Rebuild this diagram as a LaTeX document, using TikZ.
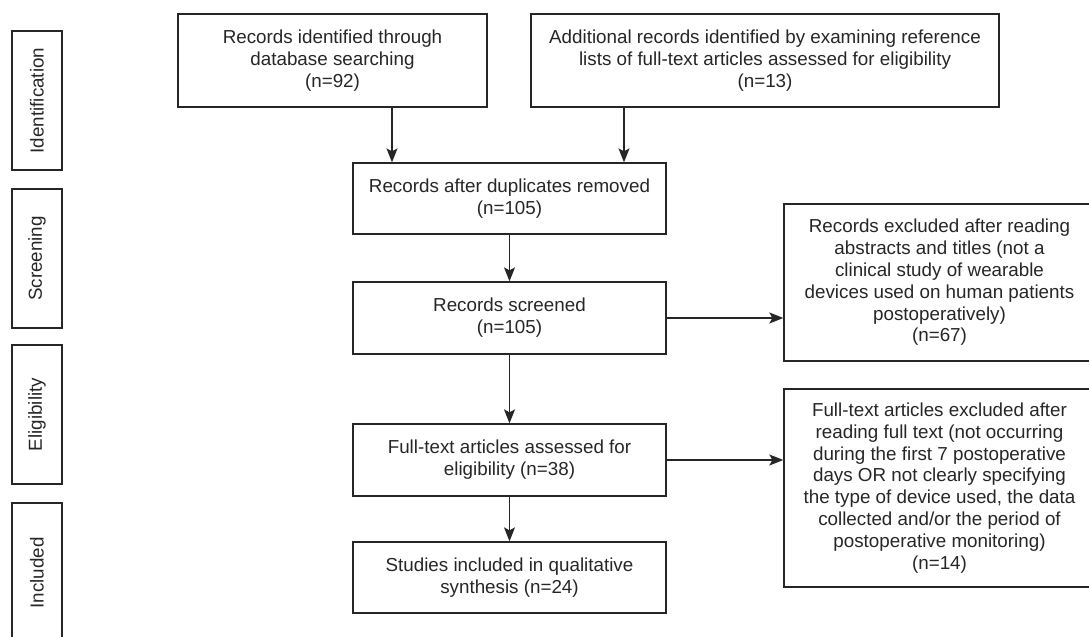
\documentclass[tikz,border=0pt]{standalone}
\usepackage{fontspec}
\setmainfont{Liberation Sans}
\usetikzlibrary{arrows.meta, positioning}
\newcommand{\pxu}{0.5pt}

\begin{document}
\begin{tikzpicture}[
    x=0.5pt, y=-0.5pt,
    font=\fontsize{9.4}{10.9}\selectfont,
    box/.style={draw=black!85, line width=0.65pt, align=center, inner sep=0pt, text=black!85},
    phase/.style={draw=black!85, line width=0.6pt, rotate=90, minimum width=139*\pxu, minimum height=50*\pxu, inner sep=0pt, text=black!85},
    arrow/.style={-{Stealth[length=7pt, width=5.5pt, inset=1.5pt]}, line width=0.65pt, draw=black!85}
]
\useasboundingbox (0,0) rectangle (1089,637);

% phase labels
\node[phase] (identification) at (37,100.5) {Identification};
\node[phase] (screening) at (37,258.5) {Screening};
\node[phase] (eligibility) at (37,414.5) {Eligibility};
\node[phase, minimum width=140*\pxu] (included) at (37,573) {Included};

% main column
\node[box, minimum width=309*\pxu, minimum height=93*\pxu] (database) at (332.5,60.5) {Records identified through\\database searching\\(n=92)};
\node[box, minimum width=468*\pxu, minimum height=93*\pxu] (additional) at (765,60.5) {Additional records identified by examining reference\\lists of full-text articles assessed for eligibility\\(n=13)};
\node[box, minimum width=313*\pxu, minimum height=71*\pxu] (duplicates) at (509.5,198.5) {Records after duplicates removed\\(n=105)};
\node[box, minimum width=313*\pxu, minimum height=72*\pxu] (screened) at (509.5,318) {Records screened\\(n=105)};
\node[box, minimum width=313*\pxu, minimum height=72*\pxu] (fulltext) at (509.5,460) {Full-text articles assessed for\\eligibility (n=38)};
\node[box, minimum width=313*\pxu, minimum height=71*\pxu] (studies) at (509.5,577.5) {Studies included in qualitative\\synthesis (n=24)};

% exclusions
\node[box, minimum width=311*\pxu, minimum height=157*\pxu] (excluded) at (939.5,282.5) {Records excluded after reading\\abstracts and titles (not a\\clinical study of wearable\\devices used on human patients\\postoperatively)\\(n=67)};
\node[box, minimum width=311*\pxu, minimum height=198*\pxu] (ftexcluded) at (939.5,488) {Full-text articles excluded after\\reading full text (not occurring\\during the first 7 postoperative\\days OR not clearly specifying\\the type of device used, the data\\collected and/or the period of\\postoperative monitoring)\\(n=14)};

\coordinate (left) at (392,0);
\coordinate (right) at (624,0);

\draw[arrow] (database.south -| left) -- (duplicates.north -| left);
\draw[arrow] (additional.south -| right) -- (duplicates.north -| right);
\draw[arrow] (duplicates) -- (screened);
\draw[arrow] (screened) -- (fulltext);
\draw[arrow] (fulltext) -- (studies);
\draw[arrow] (screened.east) -- (screened.east -| excluded.west);
\draw[arrow] (fulltext.east) -- (fulltext.east -| ftexcluded.west);

\end{tikzpicture}
\end{document}
